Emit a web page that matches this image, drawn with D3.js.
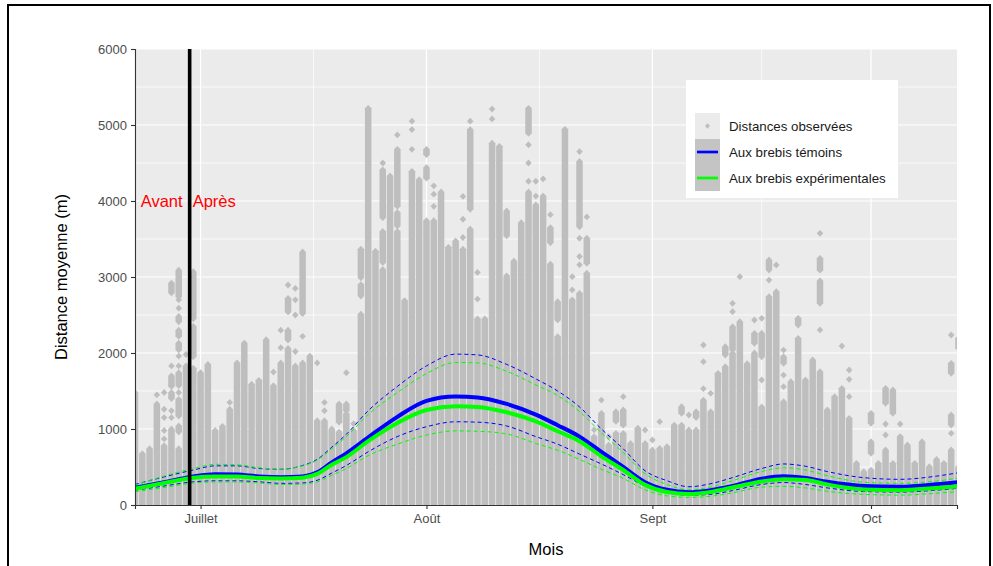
<!DOCTYPE html>
<html>
<head>
<meta charset="utf-8">
<script src="https://cdn.jsdelivr.net/npm/d3@7"></script>
<style>
  html, body { margin: 0; padding: 0; background: #ffffff; }
  svg { display: block; font-family: "Liberation Sans", Arial, sans-serif; }
</style>
</head>
<body>
<svg id="chart" width="993" height="566"></svg>
<script>
// ---- Data ---------------------------------------------------------------
// First observation day; each entry of dailyRuns is one successive day.
const firstDay = "2019-06-22";
const lastInstant = "2019-10-12T19:12";

// Observed distances per day: [low, high] runs of densely stacked observations
// (a single observation is written as [v, v]).
const dailyRuns = [
  [[0,1480]],
  [[0,675]],
  [[0,740]],
  [[0,1330],[1450,1450]],
  [[0,780],[870,870],[980,980],[1150,1150],[1260,1260],[1480,1480]],
  [[0,1000],[1150,1150],[1240,1240],[1400,1480],[1560,1700],[1830,1830],[2790,2920]],
  [[0,740],[960,1040],[1170,1390],[1480,1480],[1570,1740],[1830,1830],[1960,1960],[2040,2130],[2220,2300],[2410,2480],[2590,2590],[2700,2700],[2740,3090]],
  [[0,1830],[1980,1980]],
  [[0,1800],[1950,2350],[2450,3070]],
  [[0,1740]],
  [[0,1850]],
  [[0,980]],
  [[0,1035]],
  [[0,1260],[1350,1350]],
  [[0,1870]],
  [[0,2130]],
  [[0,1590]],
  [[0,1640]],
  [[0,2175]],
  [[0,1570],[1750,1750]],
  [[0,1870],[2070,2070],[2300,2300]],
  [[0,2060],[2170,2300],[2540,2720],[2895,2895]],
  [[0,1830],[2020,2020],[2500,2500],[2700,2700],[2850,2850]],
  [[0,1870],[2220,2220],[2520,3330]],
  [[0,1960]],
  [[0,1110],[1870,1870]],
  [[0,1110],[1240,1240],[1350,1350]],
  [[0,1000]],
  [[0,960],[1090,1330]],
  [[0,1200],[1240,1330],[1740,1740]],
  [[0,980],[1070,1070]],
  [[0,2510],[2750,2900],[2990,3365]],
  [[0,5220]],
  [[0,3340]],
  [[0,3100],[3190,3600],[3780,4410],[4500,4500]],
  [[0,4330]],
  [[0,3600],[3670,3850],[3930,4680],[4870,4870]],
  [[0,2690]],
  [[0,4390],[4680,4680],[4940,4940],[5050,5050]],
  [[0,4280]],
  [[0,3740],[4300,4440],[4610,4680]],
  [[0,3740],[3930,3930],[4090,4090],[4200,4200]],
  [[0,4120]],
  [[0,3390]],
  [[0,3475]],
  [[0,3365],[3520,3520],[3760,3760],[4060,4060]],
  [[0,3630],[3890,4940],[5050,5050]],
  [[0,2450],[2710,2710],[3060,3060]],
  [[0,2450]],
  [[0,4760],[5080,5080],[5210,5210]],
  [[0,4720]],
  [[0,3015],[3540,3870]],
  [[0,3210]],
  [[0,3715]],
  [[0,4120],[4260,4260],[4500,4500],[4740,4740],[4890,5220]],
  [[0,3950],[4065,4065],[4260,4260]],
  [[0,4065],[4290,4290]],
  [[0,3170],[3450,3650],[3820,3820]],
  [[0,2215],[2435,2675]],
  [[0,4943]],
  [[0,2700],[2830,2830],[3004,3004]],
  [[0,2785],[3160,3160],[3270,3270],[3510,3510],[3660,4520],[4650,4650]],
  [[0,3050],[3180,3510],[3790,3790]],
  [[0,900],[990,990]],
  [[0,1206],[1380,1380]],
  [[0,790],[900,900]],
  [[0,943],[1100,1228]],
  [[0,943],[1050,1250],[1425,1425]],
  [[0,810]],
  [[0,1010]],
  [[0,810],[987,987]],
  [[0,724],[855,855]],
  [[0,745],[1096,1096]],
  [[0,767]],
  [[0,1052]],
  [[0,1052],[1206,1294]],
  [[0,987],[1184,1184]],
  [[0,987],[1150,1228]],
  [[0,1380],[1530,1530],[1886,1886],[2105,2105]],
  [[0,1228],[1469,1469]],
  [[0,1732]],
  [[0,1820],[1974,2083]],
  [[0,1996],[2039,2346],[2544,2544],[2653,2653]],
  [[0,2412],[3004,3004]],
  [[0,1860]],
  [[0,2000],[2127,2259],[2434,2434]],
  [[0,1290],[1645,1645],[1950,2260],[2456,2456]],
  [[0,2741],[2960,2960],[3092,3224]],
  [[0,2807],[3158,3158]],
  [[0,1360],[1557,1557],[1710,1710],[1864,1952],[2039,2039]],
  [[0,1623]],
  [[0,2193],[2368,2456]],
  [[0,1645]],
  [[0,1908]],
  [[0,1754],[2303,2303],[2654,2950],[3090,3246],[3575,3575]],
  [[0,1250]],
  [[0,1425]],
  [[0,1535],[2092,2092]],
  [[0,1140],[1425,1425],[1654,1654],[1776,1776]],
  [[0,548]],
  [[0,438]],
  [[0,460],[680,833],[1075,1206]],
  [[0,548]],
  [[0,724],[921,921],[1066,1066],[1338,1535]],
  [[0,548],[1206,1513]],
  [[0,900],[1066,1066]],
  [[0,790]],
  [[0,548]],
  [[0,833]],
  [[0,504]],
  [[0,600]],
  [[0,548]],
  [[0,724],[943,943],[1052,1184],[1732,1864],[2237,2237]],
  [[0,500],[2061,2193]]
];

// Fitted mean distance (m) with confidence limits, at these day offsets
const fitDays = [0,4,8,11,14,17,20,23,25,27,29,32,36,40,44,47,51,55,58,61,64,67,70,73,76,79,82,86,89,92,95,100,105,110,113];
const temoinFit = [225,300,375,405,400,375,365,375,430,560,680,890,1160,1370,1428,1415,1330,1190,1050,900,700,500,300,200,168,195,250,345,378,355,305,250,240,272,300];
const temoinHigh = [270,370,460,515,515,480,470,520,600,760,930,1240,1560,1830,1985,1975,1850,1660,1500,1290,1000,740,450,320,240,280,360,480,540,510,440,360,338,380,425];
const temoinLow = [195,250,305,318,318,305,285,290,325,420,520,700,900,1030,1095,1090,1040,900,800,670,540,400,250,160,130,140,190,270,295,270,225,178,170,195,220];
const experFit = [215,290,360,375,375,355,350,360,410,530,630,840,1080,1250,1298,1290,1220,1100,970,840,640,460,265,170,145,172,230,310,340,330,270,205,195,225,245];
const experHigh = [260,380,480,535,530,490,470,515,590,740,900,1190,1480,1730,1875,1870,1760,1580,1440,1230,950,690,410,270,200,235,320,440,490,460,385,300,285,315,355];
const experLow = [175,230,290,303,303,290,270,275,305,390,480,650,800,920,975,970,935,810,720,600,470,350,200,120,100,115,160,235,245,225,180,140,130,155,175];

// Treatment start
const changeDate = "2019-06-29T12:00";
const phaseLabels = ["Avant", "Après"];
const phaseLabelValue = 4000;

// Axis ticks
const monthTicks = ["2019-07-01", "2019-08-01", "2019-09-01", "2019-10-01"];
const monthLabels = ["Juillet", "Août", "Sept", "Oct"];
const distanceTicks = [0, 1000, 2000, 3000, 4000, 5000, 6000];
const distanceMinor = [500, 1500, 2500, 3500, 4500, 5500];

const legendLabels = ["Distances observées", "Aux brebis témoins", "Aux brebis expérimentales"];

// ---- Layout ---------------------------------------------------------------
const svg = d3.select("#chart");
const panel = { left: 135, right: 957, top: 49, bottom: 505 };
const parseDay = d3.timeParse("%Y-%m-%d");
const parseInstant = d3.timeParse("%Y-%m-%dT%H:%M");
const day0 = parseDay(firstDay);

const x = d3.scaleTime()
  .domain([day0, parseInstant(lastInstant)])
  .range([panel.left, panel.right]);
const y = d3.scaleLinear().domain([0, 6000]).range([panel.bottom, panel.top]);

const gray = "#bebebe";
const blue = "#0000ff";
const green = "#00ff00";

// Outer frame
svg.append("rect")
  .attr("x", 8).attr("y", 5).attr("width", 982).attr("height", 620)
  .attr("fill", "none").attr("stroke", "#000").attr("stroke-width", 2);

// Panel background
svg.append("rect")
  .attr("x", panel.left).attr("y", panel.top)
  .attr("width", panel.right - panel.left).attr("height", panel.bottom - panel.top)
  .attr("fill", "#ebebeb");

svg.append("clipPath").attr("id", "panelClip")
  .append("rect")
  .attr("x", panel.left).attr("y", panel.top)
  .attr("width", panel.right - panel.left).attr("height", panel.bottom - panel.top);

// Grid lines
const grid = svg.append("g").attr("clip-path", "url(#panelClip)");
const monthDates = monthTicks.map(parseDay);
const monthPx = monthDates.map(x);
const minorPx = [];
for (let i = 0; i < monthPx.length - 1; i++) minorPx.push((monthPx[i] + monthPx[i + 1]) / 2);

grid.selectAll(".ymin").data(distanceMinor).join("line")
  .attr("x1", panel.left).attr("x2", panel.right)
  .attr("y1", d => y(d)).attr("y2", d => y(d))
  .attr("stroke", "#fff").attr("stroke-width", 0.7);
grid.selectAll(".xmin").data(minorPx).join("line")
  .attr("x1", d => d).attr("x2", d => d)
  .attr("y1", panel.top).attr("y2", panel.bottom)
  .attr("stroke", "#fff").attr("stroke-width", 0.7);
grid.selectAll(".ymaj").data(distanceTicks).join("line")
  .attr("x1", panel.left).attr("x2", panel.right)
  .attr("y1", d => y(d)).attr("y2", d => y(d))
  .attr("stroke", "#fff").attr("stroke-width", 1.2);
grid.selectAll(".xmaj").data(monthDates).join("line")
  .attr("x1", d => x(d)).attr("x2", d => x(d))
  .attr("y1", panel.top).attr("y2", panel.bottom)
  .attr("stroke", "#fff").attr("stroke-width", 1.2);

// Observed distances: diamonds stacked into runs, one column per day
const hw = 3.25, tip = 3.4;
const runs = [];
dailyRuns.forEach((dayRuns, i) => {
  const date = d3.timeDay.offset(day0, i);
  dayRuns.forEach(r => runs.push({ date, lo: r[0], hi: r[1] }));
});
function runPath(d) {
  const cx = x(d.date), yt = y(d.hi), yb = y(d.lo);
  return `M${cx},${yt - tip}L${cx + hw},${yt}L${cx + hw},${yb}L${cx},${yb + tip}L${cx - hw},${yb}L${cx - hw},${yt}Z`;
}
svg.append("g").attr("clip-path", "url(#panelClip)")
  .selectAll("path").data(runs).join("path")
  .attr("d", runPath)
  .attr("fill", gray);

// Fitted curves
const curveGroup = svg.append("g").attr("clip-path", "url(#panelClip)");
function drawCurve(values, color, width, dash) {
  const pts = fitDays.map((d, i) => [d3.timeHour.offset(day0, d * 24), values[i]]);
  const line = d3.line().x(p => x(p[0])).y(p => y(p[1])).curve(d3.curveMonotoneX);
  const path = curveGroup.append("path")
    .attr("d", line(pts))
    .attr("fill", "none")
    .attr("stroke", color)
    .attr("stroke-width", width)
    .attr("stroke-linejoin", "round");
  if (dash) path.attr("stroke-dasharray", dash);
}
drawCurve(temoinHigh, blue, 1, "4,3");
drawCurve(temoinLow, blue, 1, "4,3");
drawCurve(experHigh, green, 1, "4,3");
drawCurve(experLow, green, 1, "4,3");
drawCurve(temoinFit, blue, 4);
drawCurve(experFit, green, 4);

// Treatment start line and labels
const cx = x(parseInstant(changeDate));
svg.append("line")
  .attr("x1", cx).attr("x2", cx)
  .attr("y1", panel.top).attr("y2", panel.bottom)
  .attr("stroke", "#000").attr("stroke-width", 3.6);
svg.append("text")
  .attr("x", cx - 7).attr("y", y(phaseLabelValue))
  .attr("dy", "0.36em").attr("text-anchor", "end")
  .attr("fill", "#ff0000").attr("font-size", "16.5px")
  .text(phaseLabels[0]);
svg.append("text")
  .attr("x", cx + 3).attr("y", y(phaseLabelValue))
  .attr("dy", "0.36em").attr("text-anchor", "start")
  .attr("fill", "#ff0000").attr("font-size", "16.5px")
  .text(phaseLabels[1]);

// Axes
const xAxis = svg.append("g")
  .attr("transform", `translate(0,${panel.bottom})`)
  .call(d3.axisBottom(x).tickValues(monthDates).tickFormat((d, i) => monthLabels[i]).tickSizeOuter(0).tickSize(4).tickPadding(5));
const yAxis = svg.append("g")
  .attr("transform", `translate(${panel.left},0)`)
  .call(d3.axisLeft(y).tickValues(distanceTicks).tickFormat(d3.format("d")).tickSizeOuter(0).tickSize(4).tickPadding(4));
[xAxis, yAxis].forEach(g => {
  g.select(".domain").attr("stroke", "#333").attr("stroke-width", 1.1);
  g.selectAll(".tick line").attr("stroke", "#333").attr("stroke-width", 1.1);
  g.selectAll(".tick text")
    .attr("fill", "#4d4d4d")
    .attr("font-size", "13px")
    .attr("font-family", "\"Liberation Sans\", Arial, sans-serif");
});

// Axis titles
svg.append("text")
  .attr("x", (panel.left + panel.right) / 2).attr("y", 555)
  .attr("text-anchor", "middle").attr("font-size", "16.5px").attr("fill", "#000")
  .text("Mois");
svg.append("text")
  .attr("transform", `translate(67,${(panel.top + panel.bottom) / 2}) rotate(-90)`)
  .attr("text-anchor", "middle").attr("font-size", "16.5px").attr("fill", "#000")
  .text("Distance moyenne (m)");

// Legend
const lg = svg.append("g");
lg.append("rect").attr("x", 686).attr("y", 80).attr("width", 212).attr("height", 118).attr("fill", "#fff");
lg.append("rect").attr("x", 695).attr("y", 113).attr("width", 25).attr("height", 26).attr("fill", "#ebebeb");
lg.append("rect").attr("x", 695).attr("y", 139).attr("width", 25).attr("height", 52).attr("fill", "#c4c4c4");
lg.append("path")
  .attr("d", "M707.5,123.3L710,126L707.5,128.7L705,126Z")
  .attr("fill", gray);
lg.append("line").attr("x1", 697).attr("x2", 718).attr("y1", 152).attr("y2", 152)
  .attr("stroke", blue).attr("stroke-width", 2.7);
lg.append("line").attr("x1", 697).attr("x2", 718).attr("y1", 178).attr("y2", 178)
  .attr("stroke", green).attr("stroke-width", 2.7);
lg.selectAll("text.lab").data(legendLabels).join("text")
  .attr("x", 729).attr("y", (d, i) => 126 + i * 26)
  .attr("dy", "0.36em")
  .attr("font-size", "13.3px").attr("fill", "#1a1a1a")
  .text(d => d);
</script>
</body>
</html>
